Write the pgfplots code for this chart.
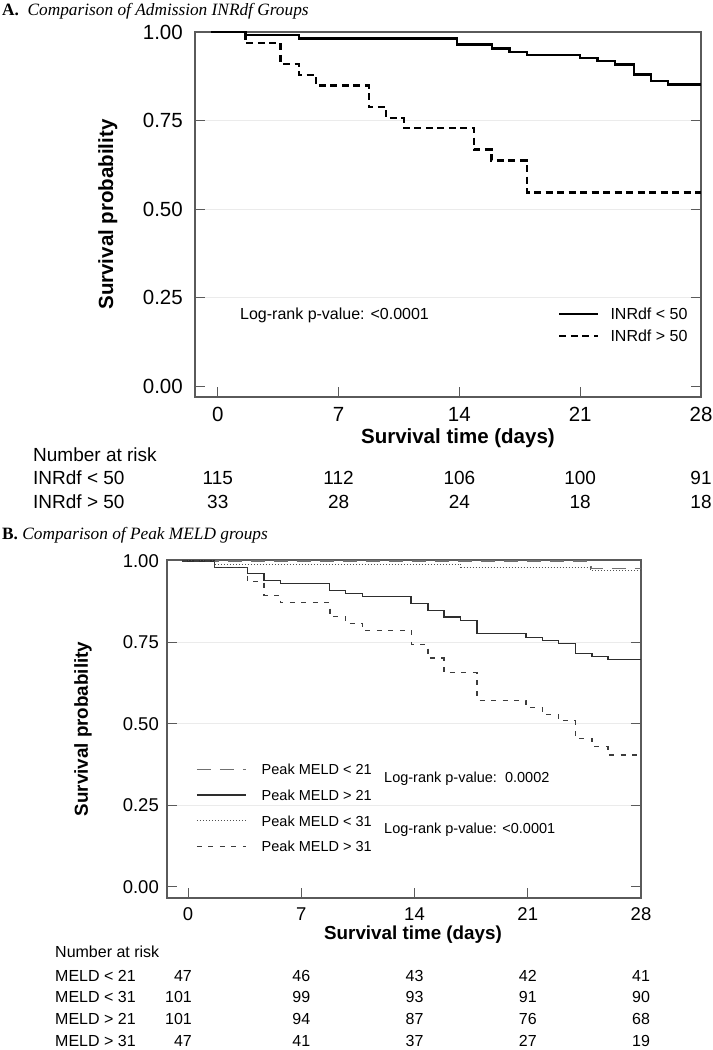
\documentclass[border=0pt]{standalone}
\usepackage{pgfplots}
\pgfplotsset{compat=1.18}
\usepackage{fontspec}
\setmainfont{Liberation Sans}
\newfontfamily\seriffont{Liberation Serif}
\definecolor{axgray}{HTML}{5A5A5A}
\definecolor{gridgray}{HTML}{EBEBEB}
\definecolor{c1}{HTML}{2E2E2E}
\definecolor{c2}{HTML}{707070}
\definecolor{c3}{HTML}{505050}
\definecolor{c4}{HTML}{3C3C3C}
\newcommand{\fs}[2]{\fontsize{#1bp}{#2bp}\selectfont}
\pgfplotsset{
  km/.style={
    scale only axis, clip=false,
    axis line style={draw=axgray, line width=1.3bp},
    xtick={0,7,14,21,28},
    ytick={0,0.25,0.5,0.75,1},
    yticklabels={0.00,0.25,0.50,0.75,1.00},
    xtick pos=left,
    tick align=inside,
    major tick length=10bp,
    tick style={draw=axgray, line width=1bp},
    extra y ticks={0.25,0.5,0.75},
    extra y tick labels={},
    extra y tick style={grid=major},
    major grid style={draw=gridgray, line width=1bp},
    /pgf/number format/assume math mode=true,
    legend cell align=left,
  }
}
\begin{document}
\begin{tikzpicture}
\path[use as bounding box] (0,0) rectangle (713bp,-1050bp);

% ---------------- Panel A ----------------
\node[anchor=west, inner sep=0pt] at (2bp,-11bp) {\seriffont\fs{17.3}{20}\textbf{A.}\ \ \textit{Comparison of Admission INRdf Groups}};
\begin{axis}[km,
  at={(195bp,-397bp)}, anchor=south west,
  width=506bp, height=365bp,
  xmin=-1.32, xmax=28, ymin=-0.031, ymax=1.0,
  tick label style={font=\fs{20.5}{24}},
  xticklabel style={anchor=north, inner sep=0pt, yshift=-9.7bp},
  yticklabel style={anchor=east, inner sep=0pt, xshift=-12bp},
  xlabel={Survival time (days)},
  ylabel={Survival probability},
  label style={font=\bfseries\fs{20.5}{24}},
  xlabel style={at={(axis description cs:0.5196,-0.1123)}, anchor=center, inner sep=0pt},
  ylabel style={at={(axis description cs:-0.1725,0.5)}, anchor=center, inner sep=0pt},
  legend style={at={(axis description cs:0.7174,0.2438)}, anchor=north west, draw=none, fill=none,
    inner sep=0pt, row sep=10.5bp, font=\fs{16}{19},
    nodes={inner sep=0pt, text height=11.5bp, text depth=0pt}},
  legend image code/.code={\draw[#1] (0bp,0bp) -- (39bp,0bp);},
  /tikz/every odd column/.style={column sep=11bp},
]
\addplot[const plot, black, line width=2.3bp] coordinates {
 (-0.37,1) (1.6,0.992) (4.7,0.982) (13.85,0.965) (15.9,0.953) (16.9,0.944) (17.9,0.936)
 (21.0,0.926) (22.0,0.918) (23.0,0.908) (24.1,0.880) (25.1,0.861) (26.1,0.852) (28,0.852)};
\addlegendentry{INRdf < 50}
\addplot[const plot, black, line width=2.3bp, dash pattern=on 7bp off 4.5bp] coordinates {
 (-0.37,1) (1.6,0.969) (3.63,0.910) (4.7,0.879) (5.68,0.849) (8.75,0.788) (9.75,0.757)
 (10.77,0.729) (14.84,0.668) (15.86,0.637) (17.9,0.547) (28,0.547)};
\addlegendentry{INRdf > 50}
\path (axis cs:0,0) coordinate (a0) (axis cs:7,0) coordinate (a7) (axis cs:14,0) coordinate (a14)
      (axis cs:21,0) coordinate (a21) (axis cs:28,0) coordinate (a28);
\end{axis}
\node[anchor=west, inner sep=0pt] at (240bp,-315bp) {\fs{16}{19}Log-rank p-value: <0.0001};
\begin{scope}[every node/.style={inner sep=0pt, font=\fs{19}{22}}]
\node[anchor=west] at (33bp,-455bp) {Number at risk};
\node[anchor=west] at (33bp,-478bp) {INRdf < 50};
\node[anchor=west] at (33bp,-502bp) {INRdf > 50};
\node at (a0 |- 0,-478bp) {115}; \node at (a7 |- 0,-478bp) {112}; \node at (a14 |- 0,-478bp) {106};
\node at (a21 |- 0,-478bp) {100}; \node at (a28 |- 0,-478bp) {91};
\node at (a0 |- 0,-502bp) {33}; \node at (a7 |- 0,-502bp) {28}; \node at (a14 |- 0,-502bp) {24};
\node at (a21 |- 0,-502bp) {18}; \node at (a28 |- 0,-502bp) {18};
\end{scope}

% ---------------- Panel B ----------------
\node[anchor=west, inner sep=0pt] at (2bp,-535bp) {\seriffont\fs{17.3}{20}\textbf{B.}\ \textit{Comparison of Peak MELD groups}};
\begin{axis}[km,
  at={(167bp,-898bp)}, anchor=south west,
  width=474bp, height=338bp,
  xmin=-1.30, xmax=28, ymin=-0.034, ymax=1.003,
  tick label style={font=\fs{18.5}{22}},
  xticklabel style={anchor=north, inner sep=0pt, yshift=-9.4bp},
  yticklabel style={anchor=east, inner sep=0pt, xshift=-8bp},
  xlabel={Survival time (days)},
  ylabel={Survival probability},
  label style={font=\bfseries\fs{18.8}{22}},
  xlabel style={at={(axis description cs:0.519,-0.1095)}, anchor=center, inner sep=0pt},
  ylabel style={at={(axis description cs:-0.177,0.5)}, anchor=center, inner sep=0pt},
  legend style={at={(axis description cs:0.0612,0.3964)}, anchor=north west, draw=none, fill=none,
    inner sep=0pt, row sep=15.3bp, font=\fs{14.5}{17},
    nodes={inner sep=0pt, text height=10.4bp, text depth=0pt}},
  legend image code/.code={\draw[#1] (0bp,0bp) -- (49bp,0bp);},
  /tikz/every odd column/.style={column sep=15bp},
]
\addplot[const plot, c2, line width=1.5bp, dash pattern=on 14bp off 9bp] coordinates {
 (-0.37,1) (24.9,0.977) (28,0.977)};
\addlegendentry{Peak MELD < 21}
\addplot[const plot, c1, line width=1.3bp] coordinates {
 (-0.37,1) (1.65,0.981) (3.68,0.961) (4.69,0.940) (5.71,0.931) (8.74,0.910) (9.75,0.900)
 (10.8,0.890) (13.79,0.869) (14.83,0.849) (15.82,0.828) (16.86,0.818) (17.87,0.777)
 (20.9,0.766) (21.9,0.756) (22.9,0.746) (23.93,0.717) (24.98,0.707) (25.96,0.697) (28,0.697)};
\addlegendentry{Peak MELD > 21}
\addplot[const plot, c3, line width=1bp, dash pattern=on 1bp off 2bp] coordinates {
 (-0.37,1) (1.65,0.990) (16.86,0.980) (24.9,0.970) (28,0.970)};
\addlegendentry{Peak MELD < 31}
\addplot[const plot, c4, line width=1.3bp, dash pattern=on 5bp off 6.5bp] coordinates {
 (-0.37,1) (1.65,0.981) (3.68,0.936) (4.69,0.895) (5.71,0.872) (8.77,0.829) (9.75,0.809)
 (10.8,0.786) (13.83,0.743) (14.83,0.702) (15.82,0.657) (17.87,0.572) (20.9,0.551)
 (21.9,0.530) (22.9,0.510) (23.93,0.455) (24.98,0.430) (25.96,0.405) (28,0.405)};
\addlegendentry{Peak MELD > 31}
\path (axis cs:0,0) coordinate (b0) (axis cs:7,0) coordinate (b7) (axis cs:14,0) coordinate (b14)
      (axis cs:21,0) coordinate (b21) (axis cs:28,0) coordinate (b28);
\end{axis}
\node[anchor=west, inner sep=0pt] at (384bp,-779bp) {\fs{14.5}{17}Log-rank p-value:\ \ 0.0002};
\node[anchor=west, inner sep=0pt] at (384bp,-830bp) {\fs{14.5}{17}Log-rank p-value: <0.0001};
\begin{scope}[every node/.style={inner sep=0pt, font=\fs{16}{19}}]
\node[anchor=west] at (55bp,-952bp) {Number at risk};
\node[anchor=west] at (55bp,-976bp) {MELD < 21};
\node[anchor=west] at (55bp,-997bp) {MELD < 31};
\node[anchor=west] at (55bp,-1019bp) {MELD > 21};
\node[anchor=west] at (55bp,-1041bp) {MELD > 31};
\node[anchor=east] at ([xshift=4bp]b0 |- 0,-976bp) {47}; \node at (b7 |- 0,-976bp) {46}; \node at (b14 |- 0,-976bp) {43};
\node at (b21 |- 0,-976bp) {42}; \node at (b28 |- 0,-976bp) {41};
\node[anchor=east] at ([xshift=4bp]b0 |- 0,-997bp) {101}; \node at (b7 |- 0,-997bp) {99}; \node at (b14 |- 0,-997bp) {93};
\node at (b21 |- 0,-997bp) {91}; \node at (b28 |- 0,-997bp) {90};
\node[anchor=east] at ([xshift=4bp]b0 |- 0,-1019bp) {101}; \node at (b7 |- 0,-1019bp) {94}; \node at (b14 |- 0,-1019bp) {87};
\node at (b21 |- 0,-1019bp) {76}; \node at (b28 |- 0,-1019bp) {68};
\node[anchor=east] at ([xshift=4bp]b0 |- 0,-1041bp) {47}; \node at (b7 |- 0,-1041bp) {41}; \node at (b14 |- 0,-1041bp) {37};
\node at (b21 |- 0,-1041bp) {27}; \node at (b28 |- 0,-1041bp) {19};
\end{scope}
\end{tikzpicture}
\end{document}
